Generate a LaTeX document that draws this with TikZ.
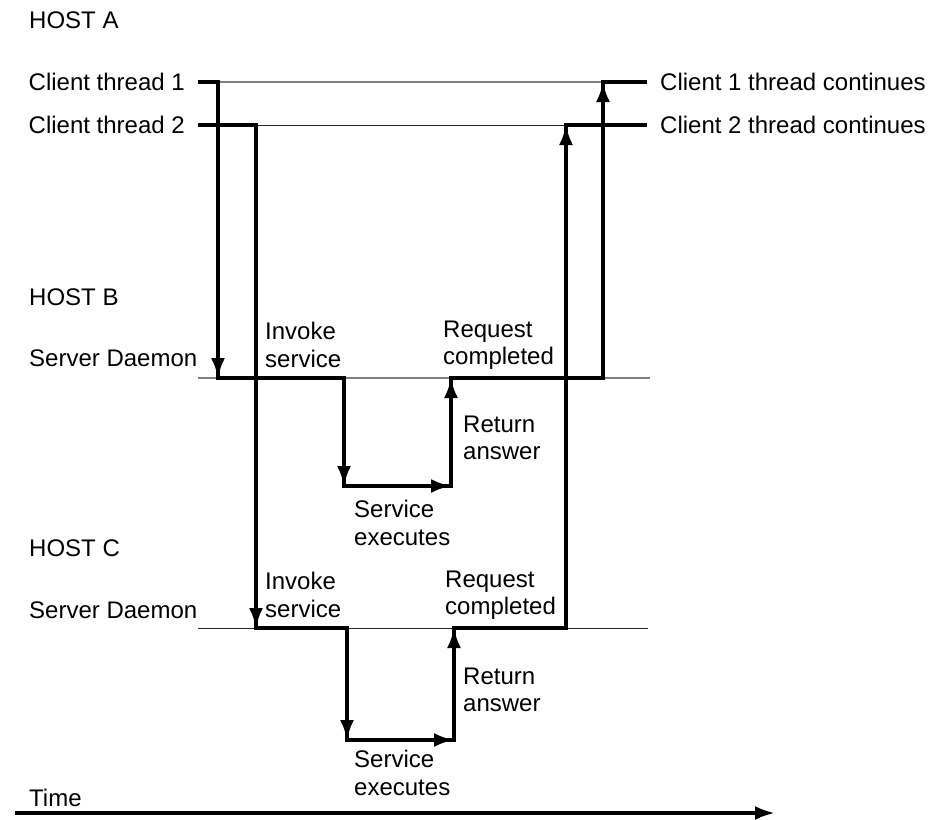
\documentclass[tikz,border=0pt]{standalone}
\usepackage{fontspec}
\setmainfont{Liberation Sans}
\usetikzlibrary{arrows.meta}

\begin{document}
\begin{tikzpicture}[x=1pt,y=-1pt,
    thread/.style={line width=3.6pt,line join=miter},
    thread arrow/.style={line width=3.6pt,-{Latex[length=20pt,width=14pt]}},
    light guide/.style={draw=gray,line width=1.4pt},
    dark guide/.style={draw=black!85,line width=1pt},
    label text/.style={font=\fontsize{24}{27.5}\selectfont,anchor=west,
        align=left,inner sep=0pt}
]
    \useasboundingbox (0,0) rectangle (938,820);

    % hosts and thread names
    \node[label text] (host-a) at (29,20) {HOST A};
    \node[label text,anchor=east] (client-1) at (185,82) {Client thread 1};
    \node[label text,anchor=east] (client-2) at (185,125) {Client thread 2};
    \node[label text] (cont-1) at (660,82) {Client 1 thread continues};
    \node[label text] (cont-2) at (660,125) {Client 2 thread continues};
    \node[label text] (host-b) at (29,297) {HOST B};
    \node[label text] (daemon-b) at (29,358) {Server Daemon};
    \node[label text] (host-c) at (29,548) {HOST C};
    \node[label text] (daemon-c) at (29,610) {Server Daemon};
    \node[label text] (time) at (29,798) {Time};

    % step labels
    \node[label text] (invoke-b) at (265,345) {Invoke\\service};
    \node[label text] (done-b) at (443,345) {Request\\completed};
    \node[label text] (answer-b) at (463,438) {Return\\answer};
    \node[label text] (exec-b) at (354,523) {Service\\executes};
    \node[label text] (invoke-c) at (265,595) {Invoke\\service};
    \node[label text] (done-c) at (445,595) {Request\\completed};
    \node[label text] (answer-c) at (463,690) {Return\\answer};
    \node[label text] (exec-c) at (354,773) {Service\\executes};

    % thread 1 corners
    \coordinate (a0) at (198,82);
    \coordinate (a1) at (218,82);
    \coordinate (a2) at (218,378);
    \coordinate (a3) at (344,378);
    \coordinate (a4) at (344,486);
    \coordinate (a5) at (451,486);
    \coordinate (a6) at (451,378);
    \coordinate (a7) at (603,378);
    \coordinate (a8) at (603,82);
    \coordinate (a9) at (647,82);
    % thread 2 corners
    \coordinate (b0) at (198,125);
    \coordinate (b1) at (256,125);
    \coordinate (b2) at (256,628);
    \coordinate (b3) at (347,628);
    \coordinate (b4) at (347,740);
    \coordinate (b5) at (454,740);
    \coordinate (b6) at (454,628);
    \coordinate (b7) at (566,628);
    \coordinate (b8) at (566,125);
    \coordinate (b9) at (647,125);

    % time lines
    \draw[light guide] (a1) -- (a8);
    \draw[dark guide] (b1) -- (b8);
    \draw[light guide] (198,378) -- (650,378);
    \draw[dark guide] (198,628) -- (648,628);

    \draw[thread] (a0) -- (a1) -- (a2) -- (a3) -- (a4) -- (a5) -- (a6)
        -- (a7) -- (a8) -- (a9);
    \draw[thread] (b0) -- (b1) -- (b2) -- (b3) -- (b4) -- (b5) -- (b6)
        -- (b7) -- (b8) -- (b9);
    \foreach \p/\q in {a1/a2,a3/a4,a4/a5,a5/a6,a7/a8,
                       b1/b2,b3/b4,b4/b5,b5/b6,b7/b8} {
        \draw[thread arrow] (\p) -- (\q);
    }

    \coordinate (time-start) at (15,813);
    \coordinate (time-end) at (775,813);
    \draw[thread arrow] (time-start) -- (time-end);
\end{tikzpicture}
\end{document}
